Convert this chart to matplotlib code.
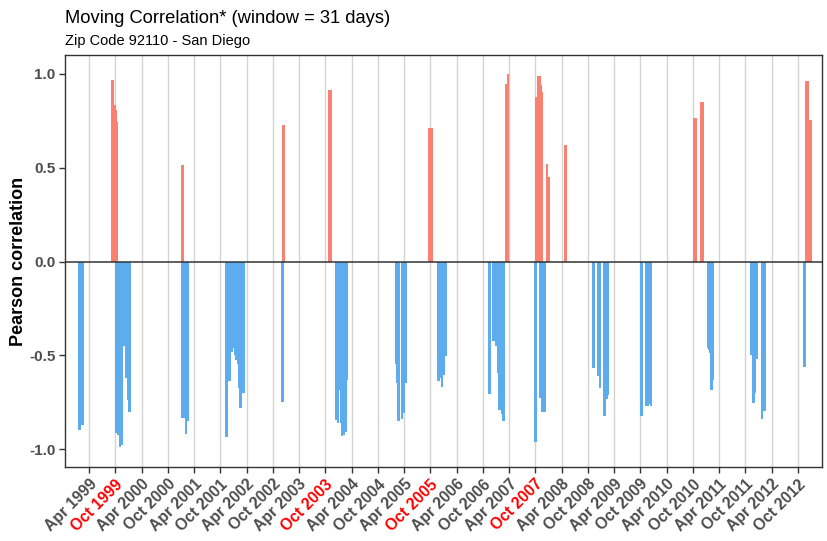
#!/usr/bin/env python3
"""Moving correlation bars (31-day window), Zip Code 92110 - San Diego."""

import matplotlib

matplotlib.use("Agg")
import matplotlib.pyplot as plt
import matplotlib.dates as mdates
import numpy as np
import pandas as pd

# runs of days with (roughly) constant moving correlation
run_start = [
    "1999-01-16", "1999-02-04",
    "1999-09-01", "1999-09-24", "1999-10-04", "1999-10-11",
    "1999-09-29", "1999-10-11", "1999-10-25", "1999-11-10", "1999-11-26",
    "1999-12-07", "1999-12-19", "1999-12-30",
    "2000-12-30",
    "2001-01-03", "2001-01-29", "2001-02-14",
    "2001-11-03", "2001-11-24", "2001-12-14", "2001-12-26", "2002-01-04",
    "2002-01-13", "2002-01-23", "2002-02-01", "2002-02-10", "2002-03-01",
    "2002-12-04", "2002-11-27",
    "2003-10-22",
    "2003-12-07", "2003-12-19", "2004-01-02", "2004-01-11", "2004-01-20",
    "2004-02-01", "2004-02-17", "2004-02-27",
    "2005-01-26", "2005-02-07", "2005-02-14", "2005-03-11", "2005-03-27",
    "2005-04-06",
    "2005-09-13",
    "2005-11-17", "2005-12-10", "2005-12-14", "2005-12-28", "2006-01-11",
    "2006-11-04", "2006-12-04", "2006-12-25", "2007-01-08", "2007-01-17",
    "2007-02-04", "2007-02-14",
    "2007-03-06", "2007-03-16",
    "2007-09-29", "2007-10-15", "2007-11-10", "2007-11-17", "2007-12-12",
    "2007-12-26",
    "2007-09-24", "2007-10-29", "2007-11-12",
    "2008-04-20",
    "2008-10-29", "2008-12-05", "2008-12-15", "2009-01-16", "2009-02-06",
    "2009-02-16",
    "2009-09-26", "2009-11-02", "2009-11-30", "2009-12-07",
    "2010-10-04", "2010-11-17",
    "2011-01-07", "2011-01-16", "2011-01-23", "2011-01-30", "2011-02-18",
    "2011-11-04", "2011-11-16", "2011-12-07", "2011-12-14", "2012-01-17",
    "2012-02-02",
    "2012-11-08",
    "2012-11-19", "2012-12-17",
]
run_end = [
    "1999-02-04", "1999-02-27",
    "1999-09-24", "1999-10-04", "1999-10-11", "1999-10-22",
    "1999-10-11", "1999-10-25", "1999-11-10", "1999-11-26", "1999-12-07",
    "1999-12-19", "1999-12-30", "2000-01-16",
    "2001-01-24",
    "2001-01-29", "2001-02-14", "2001-02-23",
    "2001-11-24", "2001-12-14", "2001-12-26", "2002-01-04", "2002-01-13",
    "2002-01-23", "2002-02-01", "2002-02-10", "2002-03-01", "2002-03-22",
    "2002-12-23", "2002-12-18",
    "2003-11-14",
    "2003-12-19", "2004-01-02", "2004-01-11", "2004-01-20", "2004-02-01",
    "2004-02-17", "2004-02-27", "2004-03-07",
    "2005-02-07", "2005-02-14", "2005-03-04", "2005-03-27", "2005-04-06",
    "2005-04-20",
    "2005-10-20",
    "2005-12-10", "2005-12-14", "2005-12-28", "2006-01-11", "2006-01-27",
    "2006-11-27", "2006-12-25", "2007-01-08", "2007-01-17", "2007-02-04",
    "2007-02-14", "2007-03-06",
    "2007-03-16", "2007-04-01",
    "2007-10-15", "2007-11-10", "2007-11-17", "2007-11-24", "2007-12-26",
    "2008-01-11",
    "2007-10-15", "2007-11-12", "2007-12-12",
    "2008-05-11",
    "2008-11-21", "2008-12-15", "2009-01-02", "2009-02-06", "2009-02-16",
    "2009-02-23",
    "2009-10-19", "2009-11-30", "2009-12-07", "2009-12-23",
    "2010-11-01", "2010-12-15",
    "2011-01-16", "2011-01-23", "2011-01-30", "2011-02-18", "2011-02-27",
    "2011-11-16", "2011-12-07", "2011-12-14", "2011-12-26", "2012-02-02",
    "2012-02-21",
    "2012-11-26",
    "2012-12-17", "2013-01-05",
]
run_value = [
    -0.90, -0.87,
    0.97, 0.835, 0.81, 0.745,
    -0.912, -0.924, -0.99, -0.978, -0.453,
    -0.62, -0.737, -0.803,
    0.514,
    -0.832, -0.919, -0.853,
    -0.937, -0.636, -0.483, -0.462, -0.498,
    -0.525, -0.547, -0.675, -0.782, -0.70,
    0.729, -0.747,
    0.912,
    -0.844, -0.862, -0.684, -0.862, -0.933,
    -0.924, -0.91, -0.631,
    -0.547, -0.649, -0.848, -0.841, -0.81,
    -0.649,
    0.713,
    -0.636, -0.62, -0.667, -0.604, -0.503,
    -0.707, -0.423, -0.45, -0.595, -0.791,
    -0.812, -0.848,
    0.948, 0.999,
    0.877, 0.99, 0.94, 0.905, 0.52,
    0.45,
    -0.963, -0.73, -0.80,
    0.622,
    -0.569, -0.613, -0.675, -0.823, -0.734,
    -0.711,
    -0.823, -0.773, -0.76, -0.773,
    0.763, 0.85,
    -0.459, -0.47, -0.489, -0.684, -0.631,
    -0.50, -0.755, -0.70, -0.52, -0.841,
    -0.796,
    -0.56,
    0.965, 0.756,
]

tick_first = "1999-04-01"
tick_last = "2012-10-01"
highlight_labels = ["Oct 1999", "Oct 2003", "Oct 2005", "Oct 2007"]

title = "Moving Correlation* (window = 31 days)"
subtitle = "Zip Code 92110 - San Diego"


def main() -> int:
    assert len(run_start) == len(run_end) == len(run_value)
    start = mdates.date2num(pd.to_datetime(run_start).to_pydatetime())
    end = mdates.date2num(pd.to_datetime(run_end).to_pydatetime())
    values = np.asarray(run_value)
    colors = np.where(values > 0, "salmon", "#5CACEE")

    fig = plt.figure(figsize=(8.27, 5.41), dpi=100)
    ax = fig.add_axes([0.0786, 0.137, 0.9154, 0.761])

    ticks = pd.date_range(tick_first, tick_last, freq="6MS")
    tick_pos = mdates.date2num(ticks.to_pydatetime())
    for t in tick_pos:
        ax.axvline(t, color="#D3D3D3", lw=1.0, zorder=0)

    ax.bar(start, values, width=end - start, bottom=0, align="edge",
           color=colors, linewidth=0, zorder=2)
    ax.axhline(0, color="#333333", lw=1.1, zorder=3)

    ax.set_xlim(mdates.date2num(pd.Timestamp("1998-10-16")),
                mdates.date2num(pd.Timestamp("2013-03-18")))
    ax.set_ylim(-1.095, 1.10)

    ax.set_xticks(tick_pos)
    labels = [t.strftime("%b %Y") for t in ticks]
    ax.set_xticklabels(labels, rotation=45, ha="right", rotation_mode="anchor",
                       fontsize=11.3, fontweight="bold", family="Liberation Sans")
    for lab in ax.get_xticklabels():
        lab.set_color("red" if lab.get_text() in highlight_labels else "#4D4D4D")

    ax.set_yticks([-1.0, -0.5, 0.0, 0.5, 1.0])
    ax.set_yticklabels(["-1.0", "-0.5", "0.0", "0.5", "1.0"], fontsize=11,
                       fontweight="bold", color="#4D4D4D", family="Liberation Sans")
    ax.tick_params(axis="both", length=4, width=1, color="#333333", pad=3)
    ax.set_ylabel("Pearson correlation", fontsize=13, fontweight="bold",
                  family="Liberation Sans")
    ax.yaxis.set_label_coords(-0.062, 0.5)
    ax.yaxis.label.set_va("center")

    for spine in ax.spines.values():
        spine.set_color("#333333")
        spine.set_linewidth(1.0)

    fig.text(0.0786, 0.957, title, fontsize=13.2, family="Liberation Sans",
             ha="left", va="baseline")
    fig.text(0.0786, 0.917, subtitle, fontsize=10.5, family="Liberation Sans",
             ha="left", va="baseline")

    fig.savefig("out.png", dpi=100)
    return 0


if __name__ == "__main__":
    raise SystemExit(main())
